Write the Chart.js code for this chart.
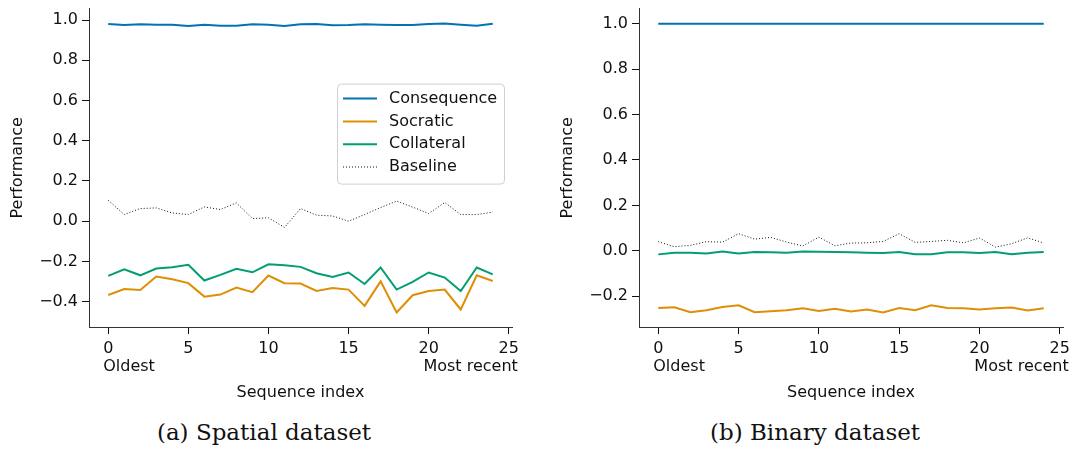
<!DOCTYPE html>
<html>
<head>
<meta charset="utf-8">
<script src="https://cdn.jsdelivr.net/npm/chart.js@4.4.0/dist/chart.umd.min.js"></script>
<style>
  body { margin: 0; background: #fff; width: 1076px; height: 451px; overflow: hidden; position: relative; }
  canvas { position: absolute; top: -5px; }
  #spatial { left: 0; }
  #binary { left: 550px; }
  .caption { position: absolute; top: 419px; font-family: "DejaVu Serif", serif; font-size: 23px; color: #111; width: 400px; text-align: center; }
</style>
</head>
<body>
<canvas id="spatial" width="540" height="415"></canvas>
<canvas id="binary" width="526" height="415"></canvas>
<div class="caption" style="left:64px">(a) Spatial dataset</div>
<div class="caption" style="left:615px">(b) Binary dataset</div>
<script>
const seqIndex = [0,1,2,3,4,5,6,7,8,9,10,11,12,13,14,15,16,17,18,19,20,21,22,23,24]
const seriesNames = ['Consequence', 'Socratic', 'Collateral', 'Baseline']

// (a) spatial dataset
const spatialConsequence = [0.980,0.975,0.979,0.977,0.977,0.970,0.977,0.972,0.972,0.979,0.977,0.970,0.979,0.980,0.974,0.975,0.979,0.977,0.975,0.975,0.980,0.983,0.977,0.972,0.982]
const spatialSocratic = [-0.367,-0.337,-0.342,-0.275,-0.289,-0.308,-0.375,-0.365,-0.330,-0.353,-0.270,-0.308,-0.310,-0.347,-0.332,-0.340,-0.421,-0.299,-0.454,-0.368,-0.347,-0.340,-0.439,-0.269,-0.297]
const spatialCollateral = [-0.272,-0.239,-0.269,-0.235,-0.229,-0.217,-0.295,-0.267,-0.237,-0.254,-0.214,-0.219,-0.227,-0.259,-0.277,-0.255,-0.312,-0.230,-0.340,-0.302,-0.255,-0.280,-0.347,-0.230,-0.264]
const spatialBaseline = [0.104,0.033,0.063,0.066,0.041,0.033,0.071,0.058,0.091,0.013,0.017,-0.031,0.063,0.030,0.026,0.000,0.033,0.068,0.100,0.070,0.038,0.093,0.033,0.033,0.045]

// (b) binary dataset
const binaryConsequence = [1,1,1,1,1,1,1,1,1,1,1,1,1,1,1,1,1,1,1,1,1,1,1,1,1]
const binarySocratic = [-0.252,-0.249,-0.271,-0.262,-0.248,-0.240,-0.271,-0.267,-0.262,-0.253,-0.265,-0.256,-0.268,-0.259,-0.272,-0.252,-0.262,-0.240,-0.252,-0.253,-0.259,-0.253,-0.250,-0.263,-0.253]
const binaryCollateral = [-0.016,-0.009,-0.009,-0.012,-0.003,-0.012,-0.006,-0.007,-0.009,-0.003,-0.004,-0.006,-0.007,-0.009,-0.010,-0.006,-0.015,-0.015,-0.007,-0.007,-0.010,-0.006,-0.015,-0.009,-0.006]
const binaryBaseline = [0.040,0.018,0.024,0.040,0.038,0.075,0.051,0.059,0.038,0.021,0.060,0.022,0.034,0.035,0.041,0.075,0.037,0.041,0.046,0.035,0.056,0.016,0.031,0.057,0.034]

const colors = ['#0173b2', '#de8f05', '#029e73', '#111']
const font = '"DejaVu Sans", sans-serif'

const toPoints = values => values.map((v, i) => ({ x: seqIndex[i], y: v }))

function makeDatasets(series) {
  return series.map((values, k) => ({
    label: seriesNames[k],
    data: toPoints(values),
    borderColor: colors[k],
    borderWidth: k === 3 ? 1 : 2,
    borderDash: k === 3 ? [1, 2] : [],
    pointRadius: 0,
    tension: 0,
    fill: false
  }))
}

const fmt = v => {
  const s = Math.abs(v).toFixed(1)
  return v < -1e-9 ? '\u2212' + s : s
}

// "Oldest" / "Most recent" under the first and last x ticks
const endLabels = {
  id: 'endLabels',
  afterDraw(chart) {
    const x = chart.scales.x
    const ctx = chart.ctx
    ctx.save()
    ctx.font = '16px ' + font
    ctx.fillStyle = '#111'
    ctx.textBaseline = 'middle'
    ctx.textAlign = 'left'
    ctx.fillText('Oldest', x.getPixelForValue(0) - 5, x.top + 40)
    ctx.textAlign = 'right'
    ctx.fillText('Most recent', x.getPixelForValue(25) + 9, x.top + 40)
    ctx.restore()
  }
}

// matplotlib style legend box inside the left plot
const boxLegend = {
  id: 'boxLegend',
  afterDraw(chart) {
    const ctx = chart.ctx
    const area = chart.chartArea
    const w = 167, h = 100
    const bx = area.right - 8 - w
    const by = area.top + 75
    ctx.save()
    ctx.beginPath()
    ctx.roundRect(bx + 0.5, by + 0.5, w, h, 4)
    ctx.fillStyle = 'rgba(255,255,255,0.85)'
    ctx.fill()
    ctx.strokeStyle = '#d0d0d0'
    ctx.lineWidth = 1
    ctx.stroke()
    ctx.font = '16px ' + font
    ctx.textBaseline = 'middle'
    ctx.textAlign = 'left'
    chart.data.datasets.forEach((ds, k) => {
      const y = by + 15 + k * 22.8
      ctx.beginPath()
      ctx.setLineDash(ds.borderDash)
      ctx.strokeStyle = ds.borderColor
      ctx.lineWidth = ds.borderWidth
      ctx.moveTo(bx + 6, y)
      ctx.lineTo(bx + 40, y)
      ctx.stroke()
      ctx.setLineDash([])
      ctx.fillStyle = '#111'
      ctx.fillText(ds.label, bx + 52, y)
    })
    ctx.restore()
  }
}

function makeChart(id, series, yMin, yMax, padRight, withLegend) {
  return new Chart(document.getElementById(id), {
    type: 'line',
    data: { datasets: makeDatasets(series) },
    plugins: withLegend ? [endLabels, boxLegend] : [endLabels],
    options: {
      responsive: false,
      animation: false,
      layout: { padding: { top: 13, right: padRight, bottom: 0, left: 0 } },
      plugins: { legend: { display: false }, tooltip: { enabled: false } },
      scales: {
        x: {
          type: 'linear',
          min: -1.2,
          max: 25.2,
          afterFit: scale => { scale.height = 83 },
          border: { display: true, color: '#333', width: 1 },
          grid: { display: true, drawOnChartArea: false, drawTicks: true, tickLength: 7, color: '#111' },
          ticks: { stepSize: 5, includeBounds: false, padding: 5, color: '#111', font: { family: font, size: 16 }, maxRotation: 0 },
          title: { display: true, text: 'Sequence index', color: '#111', font: { family: font, size: 16 }, padding: { top: 0, bottom: 8 } }
        },
        y: {
          min: yMin,
          max: yMax,
          afterFit: scale => { scale.width = 89 },
          border: { display: true, color: '#333', width: 1 },
          grid: { display: true, drawOnChartArea: false, drawTicks: true, tickLength: 7, color: '#111' },
          ticks: { stepSize: 0.2, includeBounds: false, padding: 4, color: '#111', font: { family: font, size: 16 }, callback: v => fmt(v) },
          title: { display: true, text: 'Performance', color: '#111', font: { family: font, size: 16 }, padding: { top: 8, bottom: 0 } }
        }
      }
    }
  })
}

makeChart('spatial', [spatialConsequence, spatialSocratic, spatialCollateral, spatialBaseline], -0.526, 1.057, 28, true)
makeChart('binary', [binaryConsequence, binarySocratic, binaryCollateral, binaryBaseline], -0.336, 1.067, 13, false)
</script>
</body>
</html>
